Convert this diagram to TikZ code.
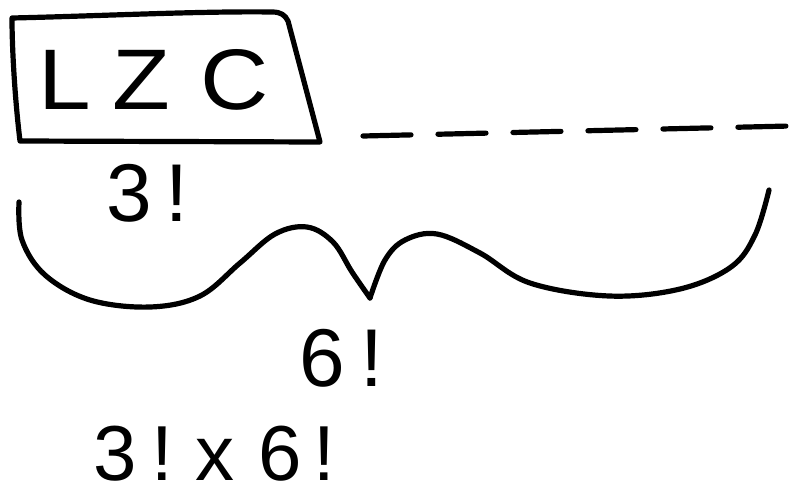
\documentclass[tikz,border=0pt]{standalone}
\usepackage{fontspec}
\setmainfont{Liberation Sans}
\begin{document}
\begin{tikzpicture}[x=1pt,y=-1pt,
  hand/.style={line width=5.2pt, line cap=round, line join=round},
  lbl/.style={font=\fontsize{82}{88}\selectfont, inner sep=0pt, anchor=base west}]
\useasboundingbox (0,0) rectangle (791,498);
% box with text
\node[font=\fontsize{86}{92}\selectfont\addfontfeature{FakeStretch=1.1}, inner sep=0pt, anchor=base west] (lzc) at (38,109) {L\hspace{22pt}Z\hspace{30pt}C};
\draw[hand] (12,18) .. controls (100,16) and (200,11) .. (272,12)
  .. controls (281,12) and (285,15) .. (288,21)
  -- (320,142) -- (20,141)
  .. controls (15,100) and (12,50) .. (12,18) -- cycle;
% dashed line
\coordinate (d1) at (363,136);
\coordinate (d2) at (790,126);
\draw[hand, dash pattern=on 48pt off 27pt] (d1) -- (d2);
% labels
\node[lbl] (three) at (106,221) {3\hspace{14pt}!};
\node[lbl] (six) at (299,386) {6\hspace{16pt}!};
\node[lbl, font=\fontsize{78}{84}\selectfont] (prod) at (93,480) {3\hspace{15pt}!\hspace{22pt}x\hspace{24pt}6\hspace{12pt}!};
% brace
\coordinate (tip) at (370,298);
\draw[hand] plot[smooth, tension=0.6] coordinates {(19,202) (22,240) (45,275) (90,300) (150,307) (200,296) (240,263) (275,234) (307,227) (333,242) (352,272) (tip)};
\draw[hand] plot[smooth, tension=0.6] coordinates {(tip) (385,260) (405,240) (437,234) (480,253) (530,283) (609,296) (680,289) (731,267) (755,235) (769,190)};
\end{tikzpicture}
\end{document}
